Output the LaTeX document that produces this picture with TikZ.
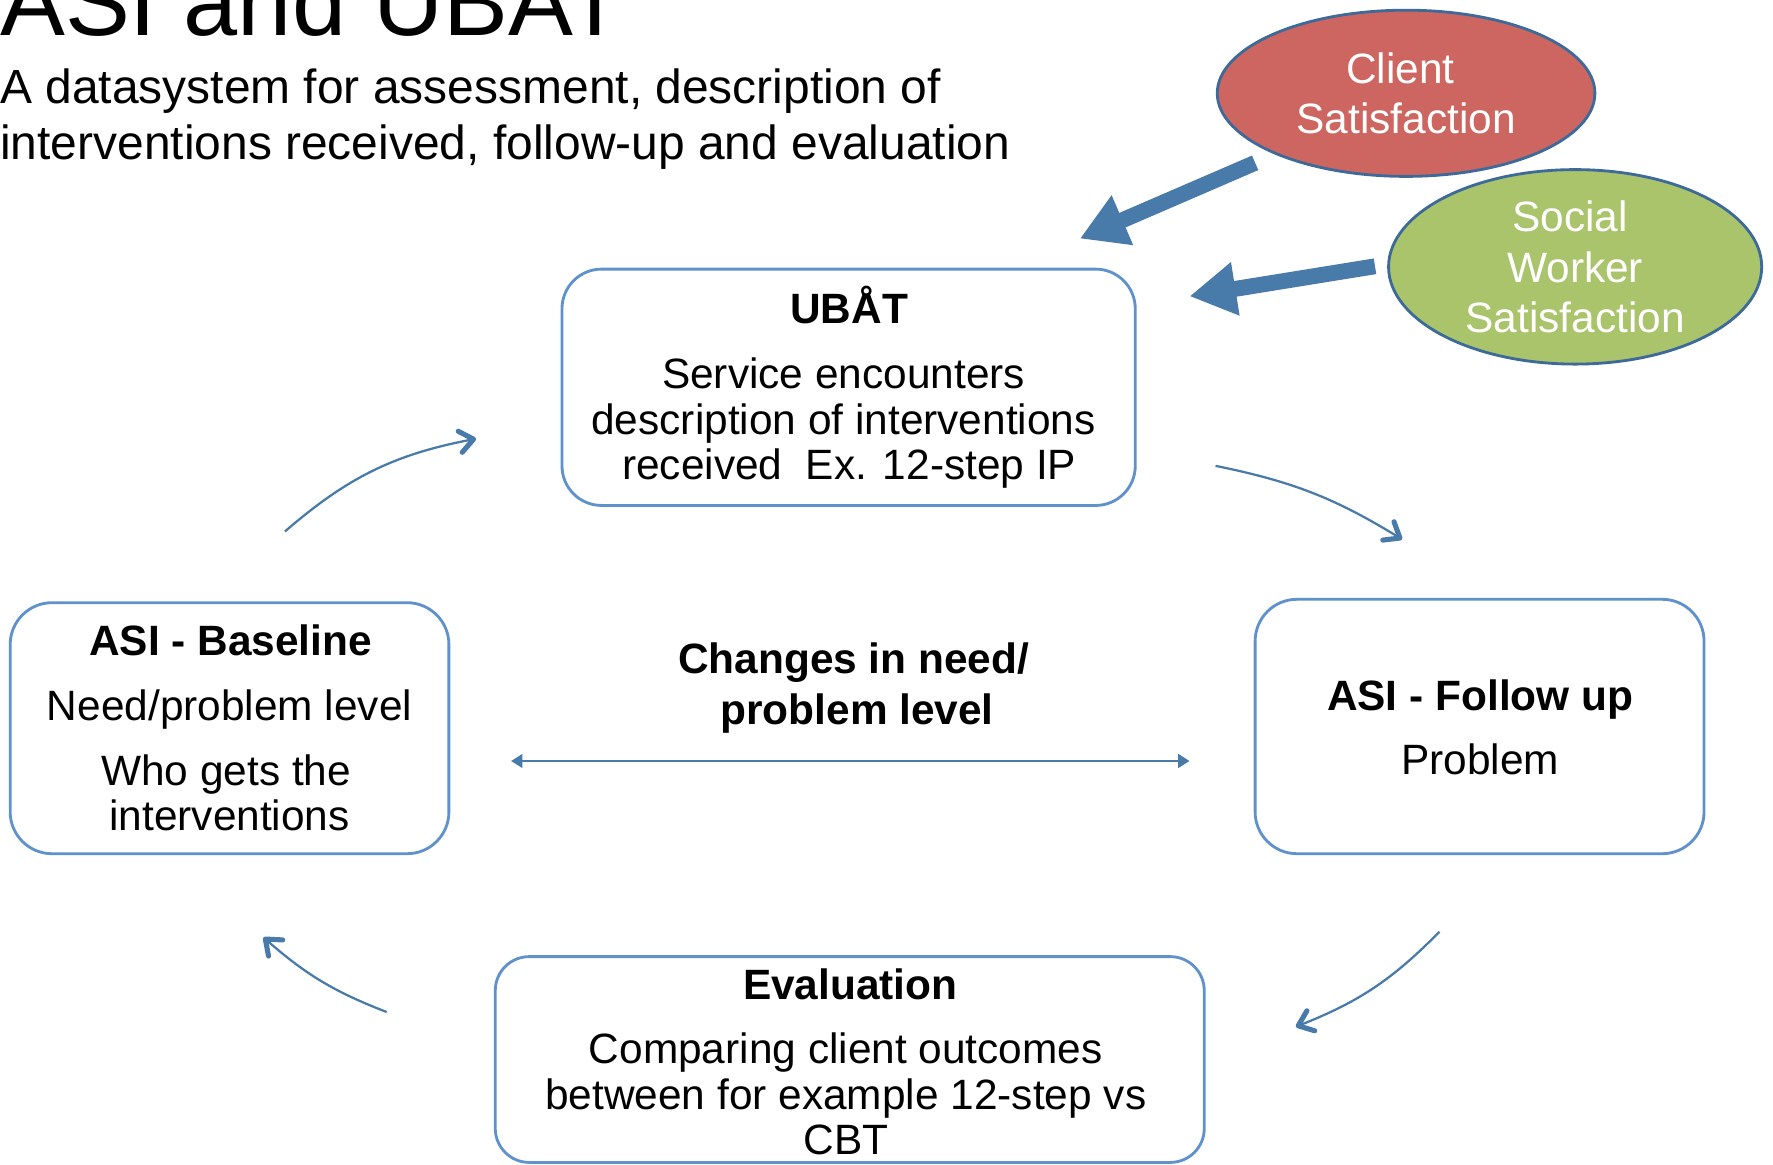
\documentclass[tikz,border=0pt]{standalone}
\usepackage{fontspec}
\setmainfont{Liberation Sans}
\usetikzlibrary{arrows.meta,shapes.geometric}

\definecolor{boxblue}{HTML}{5F91CD}
\definecolor{arrowblue}{HTML}{487AAA}
\definecolor{rimblue}{HTML}{3E6A9A}
\definecolor{clientred}{HTML}{CD6660}
\definecolor{socialgreen}{HTML}{AAC46C}

\begin{document}
\begin{tikzpicture}[x=1pt,y=-1pt,
  card/.style={draw=boxblue, line width=2.5pt, fill=white, inner sep=0pt},
  bubble/.style={ellipse, draw=rimblue, line width=2.5pt, inner sep=0pt,
    text=white, align=center, font=\fontsize{37.5}{44.5}\selectfont},
  body/.style={font=\fontsize{37.5}{40.5}\selectfont, align=center, inner sep=0pt},
  headline/.style={font=\bfseries\fontsize{37.5}{45}\selectfont, align=center, inner sep=0pt},
  fat/.style={draw=arrowblue, line width=14pt, -{Triangle[length=41pt,width=45pt]}},
  cycle/.style={draw=arrowblue, line width=2pt,
    -{Straight Barb[length=12pt,width=19pt,line width=4.5pt,round]}},
  span/.style={draw=arrowblue, line width=2.2pt,
    {Triangle[length=10pt,width=12pt]}-{Triangle[length=10pt,width=12pt]}}
]
\useasboundingbox (0,0) rectangle (1568,1030);
\clip (0,0) rectangle (1568,1030);

% heading
\node[anchor=base west, inner sep=0pt, font=\fontsize{86}{92}\selectfont] (title) at (0,31) {ASI and UBAT};
\node[anchor=north west, align=left, inner sep=0pt, font=\fontsize{42.4}{50}\selectfont] (subtitle) at (0,60.5)
  {A datasystem for assessment, description of\\interventions received, follow-up and evaluation};

% satisfaction sources
\node[bubble, fill=clientred, minimum width=334pt, minimum height=147pt] (client) at (1243.5,82.5)
  {Client\hspace*{10pt}\\Satisfaction};
\node[bubble, fill=socialgreen, minimum width=330pt, minimum height=172pt] (social) at (1393,236)
  {Social\hspace*{9pt}\\Worker\hspace*{9pt}\\Satisfaction};

% the four stages
\node[card, rounded corners=35pt, minimum width=507pt, minimum height=209pt] (ubat) at (750.5,342.5) {};
\node[card, rounded corners=37pt, minimum width=388pt, minimum height=222pt] (baseline) at (203,644) {};
\node[card, rounded corners=37pt, minimum width=397pt, minimum height=225pt] (followup) at (1308.5,642.5) {};
\node[card, rounded corners=30pt, minimum width=627pt, minimum height=182pt] (evaluation) at (751.5,937) {};

% stage texts
\node[headline, anchor=base] (ubatT) at (751,286) {UBÅT};
\node[body, anchor=north] (ubatB) at (746,316)
  {Service encounters\\description of interventions\\\hspace*{10pt}received\ \ Ex. 12-step IP};

\node[headline, anchor=base] (baseT) at (204,580) {ASI - Baseline};
\node[body, anchor=base] (baseB1) at (203,637) {Need/problem level};
\node[body, anchor=north] (baseB2) at (200,667) {Who gets the\\\hspace*{6pt}interventions};

\node[headline, anchor=base] (followT) at (1309,628) {ASI - Follow up};
\node[body, anchor=base] (followB) at (1309,685) {Problem};

\node[headline, anchor=base] (evalT) at (752,884) {Evaluation};
\node[body, anchor=north] (evalB) at (748,913)
  {Comparing client outcomes\\between for example 12-step vs\\CBT};

\node[headline, anchor=north] (change) at (755,568) {Changes in need/\\\hspace*{6pt}problem level};

% feedback arrows
\coordinate (c1) at (1110,144);  \coordinate (c2) at (955,211);
\coordinate (s1) at (1216,235.5); \coordinate (s2) at (1052,262);
\draw[fat] (c1) -- (c2);
\draw[fat] (s1) -- (s2);

% cycle arrows
\coordinate (a1s) at (252,470);   \coordinate (a1e) at (421,388);
\coordinate (a2s) at (1075,412);  \coordinate (a2e) at (1240,477);
\coordinate (a3s) at (1273,824);  \coordinate (a3e) at (1146,908);
\coordinate (a4s) at (342,895);   \coordinate (a4e) at (233,829);
\draw[cycle] (a1s) .. controls (307.6,421.9) and (348.8,401.9) .. (a1e);
\draw[cycle] (a2s) .. controls (1143.1,425.8) and (1180.8,440.7) .. (a2e);
\draw[cycle] (a3s) .. controls (1231.2,866.5) and (1201.5,886.1) .. (a3e);
\draw[cycle] (a4s) .. controls (295.4,877) and (270.6,861.9) .. (a4e);

% change span
\coordinate (dl) at (452,673); \coordinate (dr) at (1052,673);
\draw[span] (dl) -- (dr);
\end{tikzpicture}
\end{document}
